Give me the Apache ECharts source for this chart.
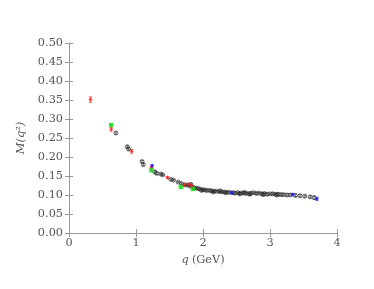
<!DOCTYPE html>
<html><head><meta charset="utf-8">
<script src="https://cdn.jsdelivr.net/npm/echarts@6/dist/echarts.min.js"></script>
<style>html,body{margin:0;padding:0;background:#fff}#c{width:374px;height:289px}</style>
</head><body><div id="c"></div>
<script>
var xTicks = [0, 1, 2, 3, 4];
var yTicks = [0, 0.05, 0.10, 0.15, 0.20, 0.25, 0.30, 0.35, 0.40, 0.45, 0.50];
// black open circles: [q, M, err]
var blackPts = [
 [0.70,0.263,0.003],[0.87,0.227,0.003],[0.89,0.221,0.003],[1.09,0.188,0.003],[1.11,0.180,0.003],
 [1.28,0.161,0.003],[1.31,0.157,0.003],[1.37,0.155,0.002],[1.40,0.153,0.002],[1.52,0.141,0.002],
 [1.56,0.139,0.002],[1.63,0.134,0.002],[1.68,0.130,0.002],[1.73,0.127,0.002],[1.77,0.126,0.002],
 [1.80,0.124,0.002],[1.84,0.121,0.002],[1.87,0.119,0.002],[1.90,0.118,0.002],[1.93,0.117,0.002],
 [1.96,0.115,0.002],[2.00,0.114,0.002],[2.03,0.113,0.002],[2.06,0.112,0.002],[2.10,0.112,0.002],
 [2.13,0.111,0.002],[2.17,0.110,0.002],[2.20,0.110,0.002],[2.24,0.109,0.002],[2.28,0.108,0.002],
 [2.32,0.108,0.002],[2.36,0.107,0.002],[2.40,0.107,0.002],[2.45,0.106,0.002],[2.48,0.105,0.003],
 [2.52,0.106,0.002],[2.56,0.105,0.002],[2.60,0.105,0.003],[2.64,0.104,0.002],[2.68,0.104,0.002],
 [2.72,0.105,0.003],[2.76,0.106,0.002],[2.80,0.104,0.003],[2.84,0.105,0.002],[2.88,0.103,0.003],
 [2.92,0.104,0.002],[2.96,0.102,0.003],[3.00,0.103,0.002],[3.04,0.103,0.003],[3.08,0.102,0.002],
 [3.12,0.102,0.003],[3.16,0.101,0.003],[3.20,0.101,0.003],[3.25,0.100,0.003],[3.30,0.100,0.003],
 [3.38,0.099,0.003],[3.45,0.098,0.003],[3.52,0.097,0.003],[3.60,0.095,0.003],[3.66,0.093,0.004],
 [1.82,0.128,0.002],[1.98,0.112,0.002],[2.15,0.108,0.002],[2.34,0.106,0.002],[2.55,0.103,0.003],
 [2.70,0.102,0.003],[2.90,0.101,0.003],[3.10,0.100,0.003],[2.26,0.111,0.002],[2.62,0.107,0.002]
];
var redPts = [
 [0.32,0.351,0.007],[0.63,0.273,0.005],[0.935,0.215,0.005],[1.23,0.172,0.004],
 [1.47,0.146,0.003],[1.72,0.126,0.003],[1.79,0.128,0.003],[1.83,0.123,0.003]
];
var greenPts = [[0.63,0.284,0.003],[1.23,0.165,0.003],[1.67,0.121,0.003],[1.85,0.116,0.003]];
var bluePts = [[1.24,0.177,0.003],[2.43,0.106,0.003],[3.34,0.101,0.003],[3.70,0.090,0.004]];

function errData(a){ return a.map(function(p){ return [p[0], p[1]-p[2], p[1]+p[2]]; }); }
function errSeries(a, color){
  return {
    type:'custom', data: errData(a), z: 1, silent:true,
    renderItem: function(params, api){
      var lo = api.coord([api.value(0), api.value(1)]);
      var hi = api.coord([api.value(0), api.value(2)]);
      var w = 1.5;
      return {type:'group', children:[
        {type:'line', shape:{x1:lo[0],y1:lo[1],x2:hi[0],y2:hi[1]}, style:{stroke:color,lineWidth:0.8}},
        {type:'line', shape:{x1:lo[0]-w,y1:lo[1],x2:lo[0]+w,y2:lo[1]}, style:{stroke:color,lineWidth:0.8}},
        {type:'line', shape:{x1:hi[0]-w,y1:hi[1],x2:hi[0]+w,y2:hi[1]}, style:{stroke:color,lineWidth:0.8}}
      ]};
    }
  };
}
function pts(a){ return a.map(function(p){ return [p[0], p[1]]; }); }
var axisLine = {lineStyle:{color:'#999', width:1}};
var labelStyle = {color:'#555', fontFamily:'DejaVu Serif', fontSize:11.3};
var chart = echarts.init(document.getElementById('c'), null, {renderer:'canvas'});
chart.setOption({
  animation:false,
  grid:{left:69, right:37, top:43, bottom:56},
  xAxis:[{
    type:'value', min:0, max:4, interval:1,
    axisLine:axisLine, axisTick:{inside:true, length:4, lineStyle:{color:'#999'}},
    splitLine:{show:false},
    axisLabel:Object.assign({margin:5, formatter:function(v){return xTicks.indexOf(v)>=0?String(v):'';}}, labelStyle),
    name:'{i|q} {n|(GeV)}', nameLocation:'middle', nameGap:19,
    nameTextStyle:{rich:{i:{fontStyle:'italic', fontFamily:'DejaVu Serif', fontSize:11.3, color:'#555'}, n:{fontFamily:'DejaVu Serif', fontSize:11.3, color:'#555'}}}
  },{
    type:'value', min:0, max:4, interval:1, position:'top',
    axisLine:axisLine, axisTick:{inside:true, length:4, lineStyle:{color:'#999'}},
    axisLabel:{show:false}, splitLine:{show:false}
  }],
  yAxis:[{
    type:'value', min:0, max:0.5, interval:0.05,
    axisLine:axisLine, axisTick:{inside:true, length:4, lineStyle:{color:'#999'}},
    splitLine:{show:false},
    axisLabel:Object.assign({margin:6, formatter:function(v){return v.toFixed(2);}}, labelStyle),
    name:'M(q²)', nameLocation:'middle', nameGap:37, nameRotate:90,
    nameTextStyle:{fontStyle:'italic', fontFamily:'DejaVu Serif', fontSize:11.5, color:'#555'}
  },{
    type:'value', min:0, max:0.5, interval:0.05, position:'right',
    axisLine:axisLine, axisTick:{inside:true, length:4, lineStyle:{color:'#999'}},
    axisLabel:{show:false}, splitLine:{show:false}
  }],
  series:[
    errSeries(blackPts, '#444'),
    {type:'scatter', data:pts(blackPts), symbol:'circle', symbolSize:4, z:2,
      itemStyle:{color:'rgba(255,255,255,0)', borderColor:'#222', borderWidth:0.8}},
    errSeries(redPts, '#ff3030'),
    {type:'scatter', data:pts(redPts), symbol:'diamond', symbolSize:4, z:3, itemStyle:{color:'#ff2020'}},
    errSeries(greenPts, '#20c020'),
    {type:'scatter', data:pts(greenPts), symbol:'rect', symbolSize:4.5, z:3, itemStyle:{color:'#22dd22'}},
    errSeries(bluePts, '#2020ff'),
    {type:'scatter', data:pts(bluePts), symbol:'diamond', symbolSize:4, z:3, itemStyle:{color:'#1a1aff'}}
  ]
});
</script></body></html>
